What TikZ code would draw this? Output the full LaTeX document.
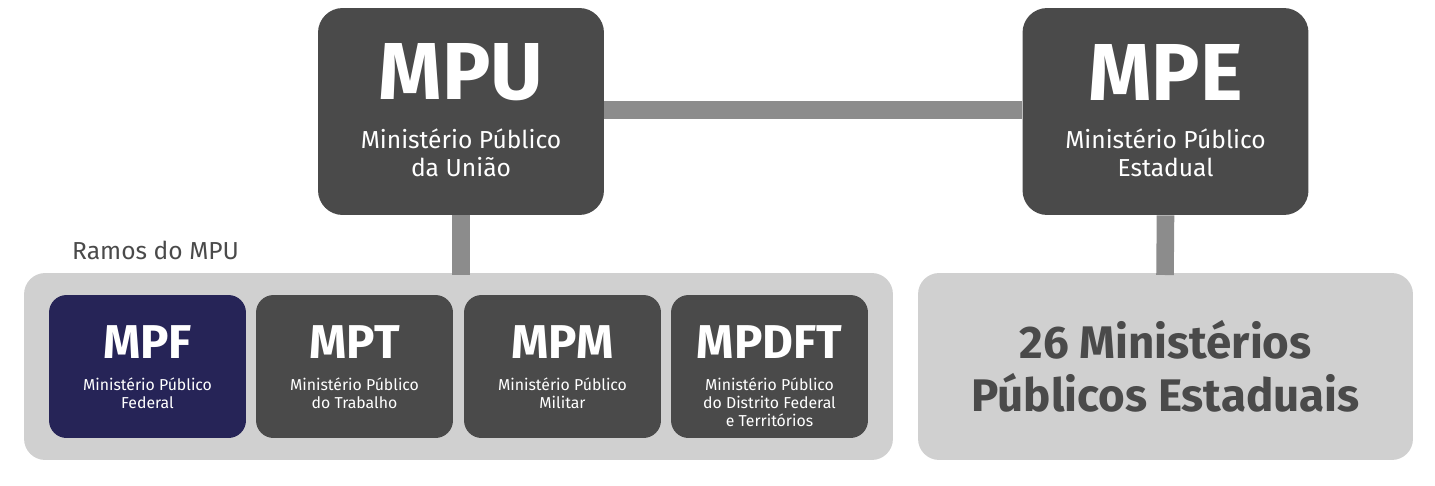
\documentclass[tikz,border=0pt]{standalone}
\usepackage{fontspec}
\setmainfont{Fira Sans}
\usetikzlibrary{positioning}
\definecolor{darkbox}{HTML}{4A4A4A}
\definecolor{navybox}{HTML}{262457}
\definecolor{panelgray}{HTML}{D0D0D0}
\definecolor{linkgray}{HTML}{8C8C8C}
\definecolor{textgray}{HTML}{4A4A4A}
\begin{document}
\begin{tikzpicture}[x=0.02cm,y=-0.02cm]
	\tikzset{
		bigbox/.style={fill=darkbox, rounded corners=14pt, minimum width=5.72cm, minimum height=4.14cm, text=white, align=center, inner sep=0pt},
		panel/.style={fill=panelgray, rounded corners=12pt, inner sep=0pt},
		unitbox/.style={fill=darkbox, rounded corners=10pt, minimum width=3.94cm, minimum height=2.86cm, text=white, align=center, inner sep=0pt},
		link/.style={linkgray, line width=10pt},
		bigtitle/.style={font=\fontsize{46}{46}\selectfont\bfseries},
		bigsub/.style={font=\fontsize{14}{16}\selectfont},
		smalltitle/.style={font=\fontsize{27}{27}\selectfont\bfseries},
		smallsub/.style={font=\fontsize{9}{10}\selectfont}
	}
	\useasboundingbox (0,0) rectangle (1435,486);
	% panels
	\node (ramos) [panel, minimum width=17.38cm, minimum height=3.74cm] at (458.5,366.5) {};
	\node (estaduais) [panel, minimum width=9.9cm, minimum height=3.74cm, text=textgray, align=center,
		font=\fontsize{26}{30}\selectfont\bfseries] at (1165.5,366.5) {26 Ministérios\\Públicos Estaduais};
	\node (ramoslabel) [anchor=west, text=textgray, font=\fontsize{14}{14}\selectfont] at (66,250) {Ramos do MPU};
	% connectors
	\coordinate (mpudown) at (461,275);
	\coordinate (mpedown) at (1165,275);
	\node (mpu) [bigbox] at (461,111.5) {};
	\node (mpe) [bigbox] at (1165.5,111.5) {};
	\draw [link] (mpu.east |- 0,110) -- (mpe.west |- 0,110);
	\draw [link] (mpu.south) -- (mpudown);
	\draw [link] (mpe.south) -- (mpedown);
	\node [bigtitle, text=white] at (461,72) {MPU};
	\node [bigsub, text=white, align=center] at (461,153) {Ministério Público\\da União};
	\node [bigtitle, text=white] at (1165.5,72) {MPE};
	\node [bigsub, text=white, align=center] at (1165.5,153) {Ministério Público\\Estadual};
	% branches
	\foreach \name/\x/\col/\abbr/\desc in {
		mpf/147.5/navybox/MPF/{Ministério Público\\Federal},
		mpt/354.5/darkbox/MPT/{Ministério Público\\do Trabalho},
		mpm/562.5/darkbox/MPM/{Ministério Público\\Militar},
		mpdft/769.5/darkbox/MPDFT/{Ministério Público\\do Distrito Federal\\e Territórios}}{
		\node (\name) [unitbox, fill=\col] at (\x,366.5) {};
		\node [smalltitle, text=white] at (\x,342) {\abbr};
		\node [smallsub, text=white, align=center, anchor=north] at (\x,372) {\desc};
	}
\end{tikzpicture}
\end{document}
